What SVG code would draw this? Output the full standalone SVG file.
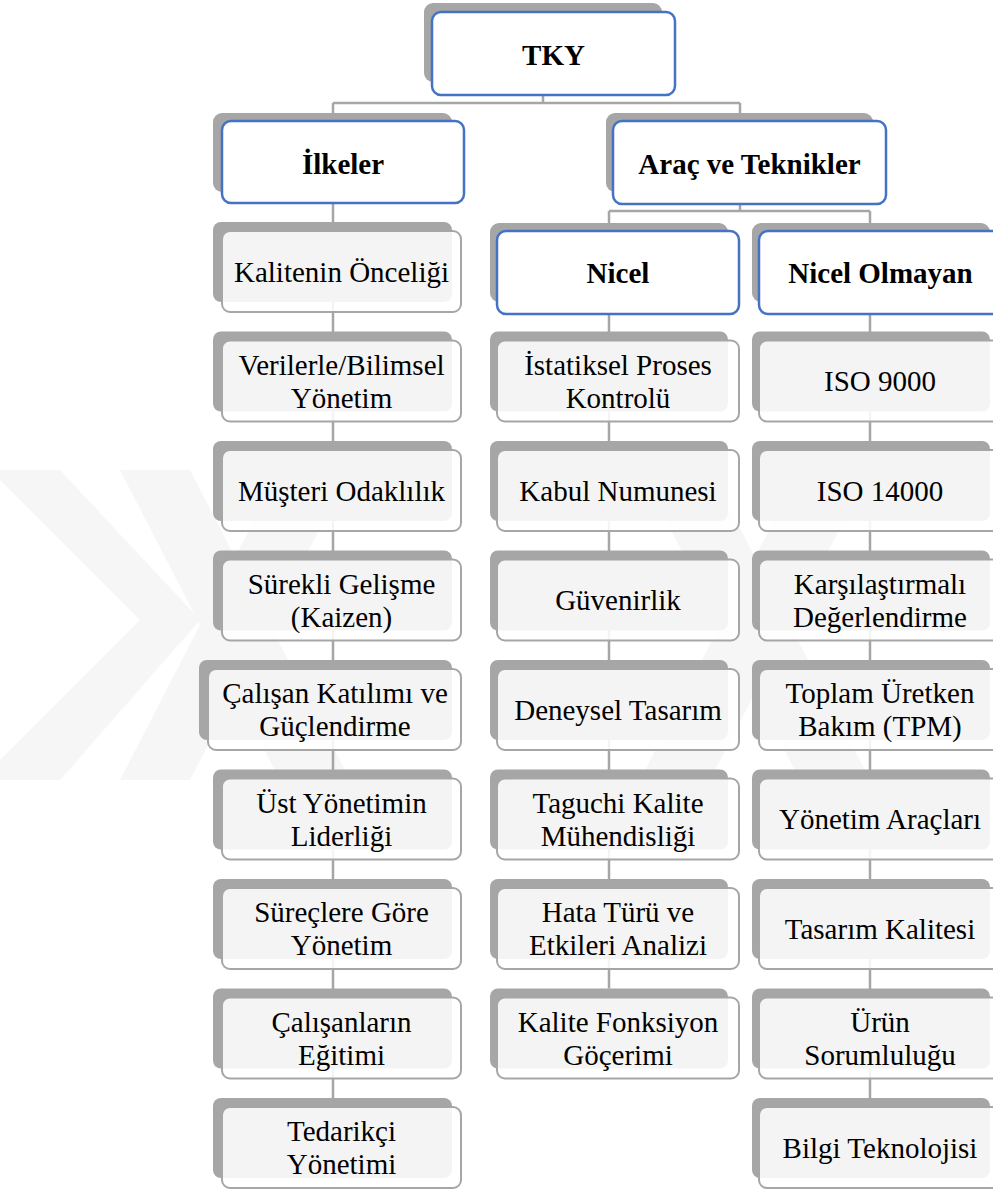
<svg xmlns="http://www.w3.org/2000/svg" width="993" height="1191" viewBox="0 0 993 1191">
<style>
.bg{fill:#ffffff}
.wm{fill:#f6f6f6}
.back{fill:#a6a6a6}
.hfront{fill:#ffffff;stroke:#4472c4;stroke-width:2.5}
.lfront{fill:#ffffff;fill-opacity:0.88;stroke:#a6a6a6;stroke-width:2}
.conn{stroke:#a6a6a6;stroke-width:2.5;fill:none}
.ht{font-weight:bold;font-size:29px;fill:#000;text-anchor:middle}
.lt{font-size:29px;fill:#000;text-anchor:middle}
</style>
<rect class="bg" x="0" y="0" width="993" height="1191"/>
<g id="watermark">
<polygon class="wm" points="0,470 60,470 200,620 60,780 0,780 0,760 140,620 0,480"/>
<polygon class="wm" points="120,470 190,470 350,780 280,780"/>
<polygon class="wm" points="280,470 350,470 190,780 120,780"/>
<polygon class="wm" points="640,470 710,470 870,780 800,780"/>
<polygon class="wm" points="800,470 870,470 710,780 640,780"/>
</g>
<g id="connectors">
<path class="conn" d="M543,95 V103 M333,103 H740 M333,103 V113 M740,103 V113"/>
<path class="conn" d="M740,204 V211 M609,211 H870 M609,211 V223 M870,211 V223"/>
<path class="conn" d="M333,203 V1098"/>
<path class="conn" d="M609,314 V988.5"/>
<path class="conn" d="M870,314 V1098"/>
</g>
<g id="nodes" font-family="Liberation Serif, Times New Roman, Times, serif">
<g id="n-tky">
<rect class="back" x="424" y="3" width="238" height="79" rx="9"/>
<rect class="hfront" x="432" y="12" width="243" height="83" rx="9"/>
<text class="ht" x="553.5" y="64.5">TKY</text>
</g>
<g id="n-ilkeler">
<rect class="back" x="213" y="113" width="239" height="79" rx="9"/>
<rect class="hfront" x="222" y="121" width="242" height="82" rx="9"/>
<text class="ht" x="343" y="173.5">İlkeler</text>
</g>
<g id="n-arac">
<rect class="back" x="606" y="113" width="267" height="79" rx="9"/>
<rect class="hfront" x="613" y="121" width="273" height="83" rx="9"/>
<text class="ht" x="749.5" y="173.5">Araç ve Teknikler</text>
</g>
<g id="n-nicel">
<rect class="back" x="490" y="223" width="238" height="79" rx="9"/>
<rect class="hfront" x="497" y="231" width="242" height="83" rx="9"/>
<text class="ht" x="618" y="283">Nicel</text>
</g>
<g id="n-nicelolmayan">
<rect class="back" x="752" y="223" width="238" height="79" rx="9"/>
<rect class="hfront" x="759" y="231" width="243" height="83" rx="9"/>
<text class="ht" x="880.5" y="283">Nicel Olmayan</text>
</g>
<g id="i0"><rect class="back" x="213" y="222" width="239" height="80" rx="8"/><rect class="lfront" x="222" y="231" width="239" height="81" rx="8"/><text class="lt" x="341.5" y="281.5">Kalitenin Önceliği</text></g>
<g id="i1"><rect class="back" x="213" y="331.5" width="239" height="80" rx="8"/><rect class="lfront" x="222" y="340.5" width="239" height="81" rx="8"/><text class="lt" x="341.5" y="374.5">Verilerle/Bilimsel</text><text class="lt" x="341.5" y="407.5">Yönetim</text></g>
<g id="i2"><rect class="back" x="213" y="441" width="239" height="80" rx="8"/><rect class="lfront" x="222" y="450" width="239" height="81" rx="8"/><text class="lt" x="341.5" y="500.5">Müşteri Odaklılık</text></g>
<g id="i3"><rect class="back" x="213" y="550.5" width="239" height="80" rx="8"/><rect class="lfront" x="222" y="559.5" width="239" height="81" rx="8"/><text class="lt" x="341.5" y="593.5">Sürekli Gelişme</text><text class="lt" x="341.5" y="626.5">(Kaizen)</text></g>
<g id="i4"><rect class="back" x="199" y="660" width="253" height="80" rx="8"/><rect class="lfront" x="208" y="669" width="253" height="81" rx="8"/><text class="lt" x="335" y="703">Çalışan Katılımı ve</text><text class="lt" x="335" y="736">Güçlendirme</text></g>
<g id="i5"><rect class="back" x="213" y="769.5" width="239" height="80" rx="8"/><rect class="lfront" x="222" y="778.5" width="239" height="81" rx="8"/><text class="lt" x="341.5" y="812.5">Üst Yönetimin</text><text class="lt" x="341.5" y="845.5">Liderliği</text></g>
<g id="i6"><rect class="back" x="213" y="879" width="239" height="80" rx="8"/><rect class="lfront" x="222" y="888" width="239" height="81" rx="8"/><text class="lt" x="341.5" y="922">Süreçlere Göre</text><text class="lt" x="341.5" y="955">Yönetim</text></g>
<g id="i7"><rect class="back" x="213" y="988.5" width="239" height="80" rx="8"/><rect class="lfront" x="222" y="997.5" width="239" height="81" rx="8"/><text class="lt" x="341.5" y="1031.5">Çalışanların</text><text class="lt" x="341.5" y="1064.5">Eğitimi</text></g>
<g id="i8"><rect class="back" x="213" y="1098" width="239" height="80" rx="8"/><rect class="lfront" x="222" y="1107" width="239" height="81" rx="8"/><text class="lt" x="341.5" y="1141">Tedarikçi</text><text class="lt" x="341.5" y="1174">Yönetimi</text></g>
<g id="n1"><rect class="back" x="490" y="331.5" width="238" height="80" rx="8"/><rect class="lfront" x="497" y="340.5" width="242" height="81" rx="8"/><text class="lt" x="618" y="374.5">İstatiksel Proses</text><text class="lt" x="618" y="407.5">Kontrolü</text></g>
<g id="n2"><rect class="back" x="490" y="441" width="238" height="80" rx="8"/><rect class="lfront" x="497" y="450" width="242" height="81" rx="8"/><text class="lt" x="618" y="500.5">Kabul Numunesi</text></g>
<g id="n3"><rect class="back" x="490" y="550.5" width="238" height="80" rx="8"/><rect class="lfront" x="497" y="559.5" width="242" height="81" rx="8"/><text class="lt" x="618" y="610">Güvenirlik</text></g>
<g id="n4"><rect class="back" x="490" y="660" width="238" height="80" rx="8"/><rect class="lfront" x="497" y="669" width="242" height="81" rx="8"/><text class="lt" x="618" y="719.5">Deneysel Tasarım</text></g>
<g id="n5"><rect class="back" x="490" y="769.5" width="238" height="80" rx="8"/><rect class="lfront" x="497" y="778.5" width="242" height="81" rx="8"/><text class="lt" x="618" y="812.5">Taguchi Kalite</text><text class="lt" x="618" y="845.5">Mühendisliği</text></g>
<g id="n6"><rect class="back" x="490" y="879" width="238" height="80" rx="8"/><rect class="lfront" x="497" y="888" width="242" height="81" rx="8"/><text class="lt" x="618" y="922">Hata Türü ve</text><text class="lt" x="618" y="955">Etkileri Analizi</text></g>
<g id="n7"><rect class="back" x="490" y="988.5" width="238" height="80" rx="8"/><rect class="lfront" x="497" y="997.5" width="242" height="81" rx="8"/><text class="lt" x="618" y="1031.5">Kalite Fonksiyon</text><text class="lt" x="618" y="1064.5">Göçerimi</text></g>
<g id="o1"><rect class="back" x="752" y="331.5" width="238" height="80" rx="8"/><rect class="lfront" x="759" y="340.5" width="242" height="81" rx="8"/><text class="lt" x="880" y="391">ISO 9000</text></g>
<g id="o2"><rect class="back" x="752" y="441" width="238" height="80" rx="8"/><rect class="lfront" x="759" y="450" width="242" height="81" rx="8"/><text class="lt" x="880" y="500.5">ISO 14000</text></g>
<g id="o3"><rect class="back" x="752" y="550.5" width="238" height="80" rx="8"/><rect class="lfront" x="759" y="559.5" width="242" height="81" rx="8"/><text class="lt" x="880" y="593.5">Karşılaştırmalı</text><text class="lt" x="880" y="626.5">Değerlendirme</text></g>
<g id="o4"><rect class="back" x="752" y="660" width="238" height="80" rx="8"/><rect class="lfront" x="759" y="669" width="242" height="81" rx="8"/><text class="lt" x="880" y="703">Toplam Üretken</text><text class="lt" x="880" y="736">Bakım (TPM)</text></g>
<g id="o5"><rect class="back" x="752" y="769.5" width="238" height="80" rx="8"/><rect class="lfront" x="759" y="778.5" width="242" height="81" rx="8"/><text class="lt" x="880" y="829">Yönetim Araçları</text></g>
<g id="o6"><rect class="back" x="752" y="879" width="238" height="80" rx="8"/><rect class="lfront" x="759" y="888" width="242" height="81" rx="8"/><text class="lt" x="880" y="938.5">Tasarım Kalitesi</text></g>
<g id="o7"><rect class="back" x="752" y="988.5" width="238" height="80" rx="8"/><rect class="lfront" x="759" y="997.5" width="242" height="81" rx="8"/><text class="lt" x="880" y="1031.5">Ürün</text><text class="lt" x="880" y="1064.5">Sorumluluğu</text></g>
<g id="o8"><rect class="back" x="752" y="1098" width="238" height="80" rx="8"/><rect class="lfront" x="759" y="1107" width="242" height="81" rx="8"/><text class="lt" x="880" y="1157.5">Bilgi Teknolojisi</text></g>
</g>
</svg>
